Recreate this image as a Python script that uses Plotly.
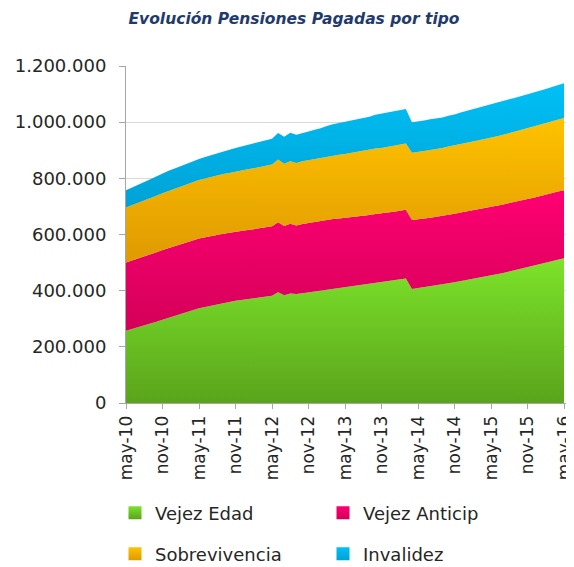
import plotly.graph_objects as go
import numpy as np

MONTH_ABBR = ["ene", "feb", "mar", "abr", "may", "jun", "jul", "ago", "sep", "oct", "nov", "dic"]
months = []
for i in range(73):
    m = (4 + i) % 12
    y = 10 + (4 + i) // 12
    months.append(f"{MONTH_ABBR[m]}-{y:02d}")

vejez_edad = [257, 263, 270, 276, 283, 289, 296, 303, 310, 317, 324, 331, 337, 342, 347, 352, 356, 360, 364,
              367, 370, 373, 376, 379, 382, 394, 384, 390, 388, 391, 394, 397, 400, 404, 407, 410, 412, 415,
              418, 421, 423, 427, 430, 433, 436, 440, 443, 406, 409, 412, 415, 419, 422, 426, 430, 434, 438,
              442, 446, 450, 453, 458, 463, 468, 473, 478, 483, 488, 494, 499, 504, 510, 515]
vejez_anticip = [243, 244, 245, 246, 247, 248, 249, 249, 249, 249, 249, 249, 249, 248, 248, 247, 247, 246, 246,
                 246, 246, 246, 246, 246, 247, 250, 246, 248, 244, 246, 247, 247, 248, 248, 248, 247, 247, 247,
                 246, 246, 246, 246, 245, 245, 245, 245, 245, 246, 245, 245, 245, 244, 244, 244, 244, 244, 244,
                 244, 244, 244, 244, 244, 244, 244, 243, 243, 243, 243, 243, 243, 243, 243, 243]
sobrevivencia = [196, 197, 198, 199, 200, 201, 202, 203, 204, 205, 206, 207, 208, 209, 210, 211, 212, 213, 214,
                 215, 216, 217, 218, 219, 220, 223, 222, 223, 223, 224, 224, 225, 225, 226, 227, 227, 228, 229,
                 230, 231, 232, 233, 233, 234, 235, 235, 236, 239, 239, 240, 241, 241, 242, 243, 243, 244, 244,
                 245, 246, 246, 247, 248, 248, 249, 250, 251, 251, 252, 253, 254, 255, 256, 257]
invalidez = [62, 63, 65, 66, 67, 69, 71, 72, 72, 73, 74, 74, 75, 77, 78, 80, 81, 83, 84,
             86, 88, 90, 92, 92, 92, 94, 96, 101, 100, 101, 102, 104, 105, 108, 111, 113, 114, 115,
             116, 117, 118, 120, 122, 123, 123, 123, 123, 109, 109, 109, 109, 109, 109, 110, 110, 112, 114,
             116, 118, 120, 121, 121, 121, 121, 121, 121, 121, 122, 122, 122, 123, 123, 124]

series_names = ["Vejez Edad", "Vejez Anticip", "Sobrevivencia", "Invalidez"]
series_values = [vejez_edad, vejez_anticip, sobrevivencia, invalidez]
dark_colors = ["#5aa41c", "#d30058", "#df9a00", "#00a2d6"]
light_colors = ["#7de32a", "#ff0072", "#ffc200", "#00c0f5"]

tick_labels = months[::6]

FONT = "DejaVu Sans"
W, H = 566, 559  # page body has an 8px margin in the viewer

fig = go.Figure()

lower = np.zeros(73)
for name, vals, dk, lt in zip(series_names, series_values, dark_colors, light_colors):
    v = np.array(vals) * 1000
    upper = lower + v
    fig.add_trace(go.Scatter(
        x=months, y=v, name=name, stackgroup="one", mode="lines",
        line=dict(width=0, color=lt),
        fillcolor=lt,
        fillgradient=dict(type="vertical", colorscale=[[0, dk], [1, lt]],
                          start=float(lower.min()), stop=float(upper.max())),
        showlegend=False, hoverinfo="skip",
    ))
    lower = upper

for i, (name, dk, lt) in enumerate(zip(series_names, dark_colors, light_colors)):
    fig.add_trace(go.Scatter(
        x=[None], y=[None], mode="markers", name=name,
        marker=dict(symbol="square", size=13, color=lt,
                    gradient=dict(type="vertical", color=dk)),
        legend="legend" if i < 2 else "legend2",
    ))

legend_common = dict(orientation="h", xref="container", yref="container",
                     x=107 / W, xanchor="left", yanchor="middle", traceorder="normal",
                     entrywidth=163, font=dict(size=18, color="#262626", family=FONT),
                     bgcolor="rgba(0,0,0,0)")

fig.update_layout(
    width=W, height=H,
    margin=dict(l=118, r=3, t=58, b=164, autoexpand=False),
    paper_bgcolor="white", plot_bgcolor="white",
    separators=",.",
    font=dict(family=FONT, size=17, color="#262626"),
    title=dict(text="<b><i>Evolución Pensiones Pagadas por tipo</i></b>",
               font=dict(family=FONT, size=15.5, color="#1f3b6e"),
               x=286 / W, xref="container", xanchor="center",
               y=1 - 11 / H, yref="container", yanchor="middle"),
    xaxis=dict(type="category", range=[0, 73.15],
               tickmode="array", tickvals=tick_labels, ticktext=tick_labels,
               tickangle=-90, ticks="outside", ticklen=5, tickcolor="#a6a6a6",
               showline=True, linecolor="#a6a6a6", linewidth=1,
               showgrid=False, tickfont=dict(size=17, color="#262626")),
    yaxis=dict(range=[0, 1200000], tickvals=[0, 200000, 400000, 600000, 800000, 1000000, 1200000],
               tickformat=",d", ticks="outside", ticklen=6, tickcolor="#a6a6a6",
               showline=True, linecolor="#a6a6a6", linewidth=1,
               showgrid=True, gridcolor="#d9d9d9", gridwidth=1, zeroline=False,
               ticklabelstandoff=9,
               tickfont=dict(size=18, color="#262626")),
    legend=dict(legend_common, y=1 - 505 / H),
    legend2=dict(legend_common, y=1 - 546 / H),
)

fig.write_html("out.html")
